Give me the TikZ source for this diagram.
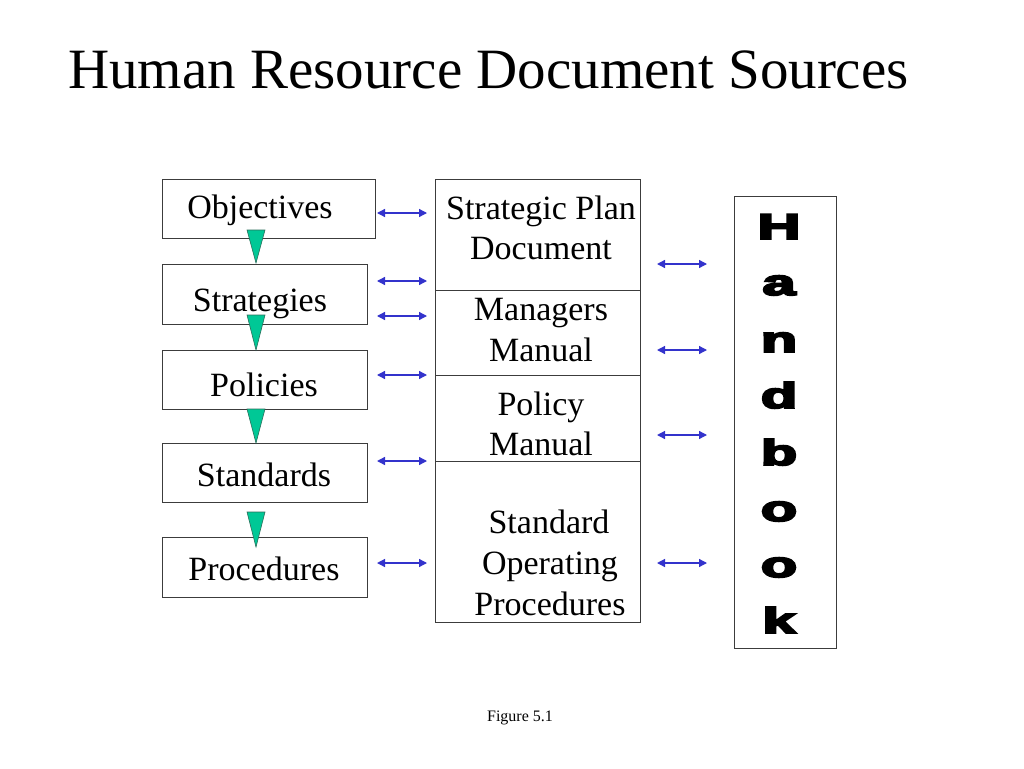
\documentclass[tikz,border=0pt]{standalone}
\usepackage{fontspec}
\setmainfont{Liberation Serif}
\newfontfamily\hbfont[FakeBold=5]{Liberation Sans Bold}
\usetikzlibrary{arrows.meta}
\definecolor{boxgray}{RGB}{60,60,60}
\definecolor{arrowblue}{RGB}{51,51,204}
\definecolor{tealg}{RGB}{0,200,150}
\definecolor{tealdark}{RGB}{40,110,90}
\begin{document}
\begin{tikzpicture}[x=1pt,y=-1pt,
  box/.style={draw=boxgray, line width=1.1pt, inner sep=0pt, anchor=north west},
  lbl/.style={font=\fontsize{34}{40}\selectfont, anchor=base, inner sep=0pt},
  link/.style={draw=arrowblue, line width=1.3pt, {Triangle[length=8pt,width=8pt]}-{Triangle[length=8pt,width=8pt]}},
  tri/.style={fill=tealg, draw=tealdark, line width=0.6pt},
  letter/.style={font=\hbfont\fontsize{36}{36}\selectfont, anchor=base, xscale=1.65, inner sep=0pt}]
\path[use as bounding box, fill=white] (0,0) rectangle (1024,768);

% title
\node[font=\fontsize{57}{60}\selectfont, anchor=base west, inner sep=0pt] (title) at (68,88) {Human Resource Document Sources};

% left boxes
\node[box, minimum width=213pt, minimum height=59pt] (obj) at (162,179) {};
\node[box, minimum width=205pt, minimum height=60pt] (str) at (162,264) {};
\node[box, minimum width=205pt, minimum height=59pt] (pol) at (162,350) {};
\node[box, minimum width=205pt, minimum height=59pt] (std) at (162,443) {};
\node[box, minimum width=205pt, minimum height=60pt] (pro) at (162,537) {};

\node[lbl] (tobj) at (260,218) {Objectives};
\node[lbl] (tstr) at (260,311) {Strategies};
\node[lbl] (tpol) at (264,396) {Policies};
\node[lbl] (tstd) at (264,486) {Standards};
\node[lbl] (tpro) at (264,580) {Procedures};

% middle column
\node[box, minimum width=205pt, minimum height=111pt] (sp) at (435,179) {};
\node[box, minimum width=205pt, minimum height=85pt] (mm) at (435,290) {};
\node[box, minimum width=205pt, minimum height=86pt] (pm) at (435,375) {};
\node[box, minimum width=205pt, minimum height=161pt] (sop) at (435,461) {};

\node[lbl] (tsp1) at (541,219) {Strategic Plan};
\node[lbl] (tsp2) at (541,259) {Document};
\node[lbl] (tmm1) at (541,320) {Managers};
\node[lbl] (tmm2) at (541,361) {Manual};
\node[lbl] (tpm1) at (541,415) {Policy};
\node[lbl] (tpm2) at (541,455) {Manual};
\node[lbl] (tso1) at (549,533) {Standard};
\node[lbl] (tso2) at (550,574) {Operating};
\node[lbl] (tso3) at (550,615) {Procedures};

% handbook
\node[box, minimum width=102pt, minimum height=452pt] (hb) at (734,196) {};
\foreach \l/\y [count=\i] in {H/239,a/295,n/352,d/408,b/465,o/521,o/577,k/633}
  \node[letter] (hb\i) at (779,\y) {\l};

% triangles
\draw[tri] (247,230) -- (265,230) -- (256,263) -- cycle;
\draw[tri] (247,315) -- (265,315) -- (256,350) -- cycle;
\draw[tri] (247,409) -- (265,409) -- (256,443) -- cycle;
\draw[tri] (247,512) -- (265,512) -- (256,547) -- cycle;

% left arrows
\foreach \y [count=\i] in {213,281,316,375,461,563} {
  \coordinate (la\i s) at (377,\y);
  \coordinate (la\i e) at (427,\y);
  \draw[link] (la\i s) -- (la\i e);
}
% right arrows
\foreach \y [count=\i] in {264,350,435,563} {
  \coordinate (ra\i s) at (657,\y);
  \coordinate (ra\i e) at (707,\y);
  \draw[link] (ra\i s) -- (ra\i e);
}

\node[font=\fontsize{16}{18}\selectfont, anchor=base, inner sep=0pt] (fig) at (520,721) {Figure 5.1};
\end{tikzpicture}
\end{document}
